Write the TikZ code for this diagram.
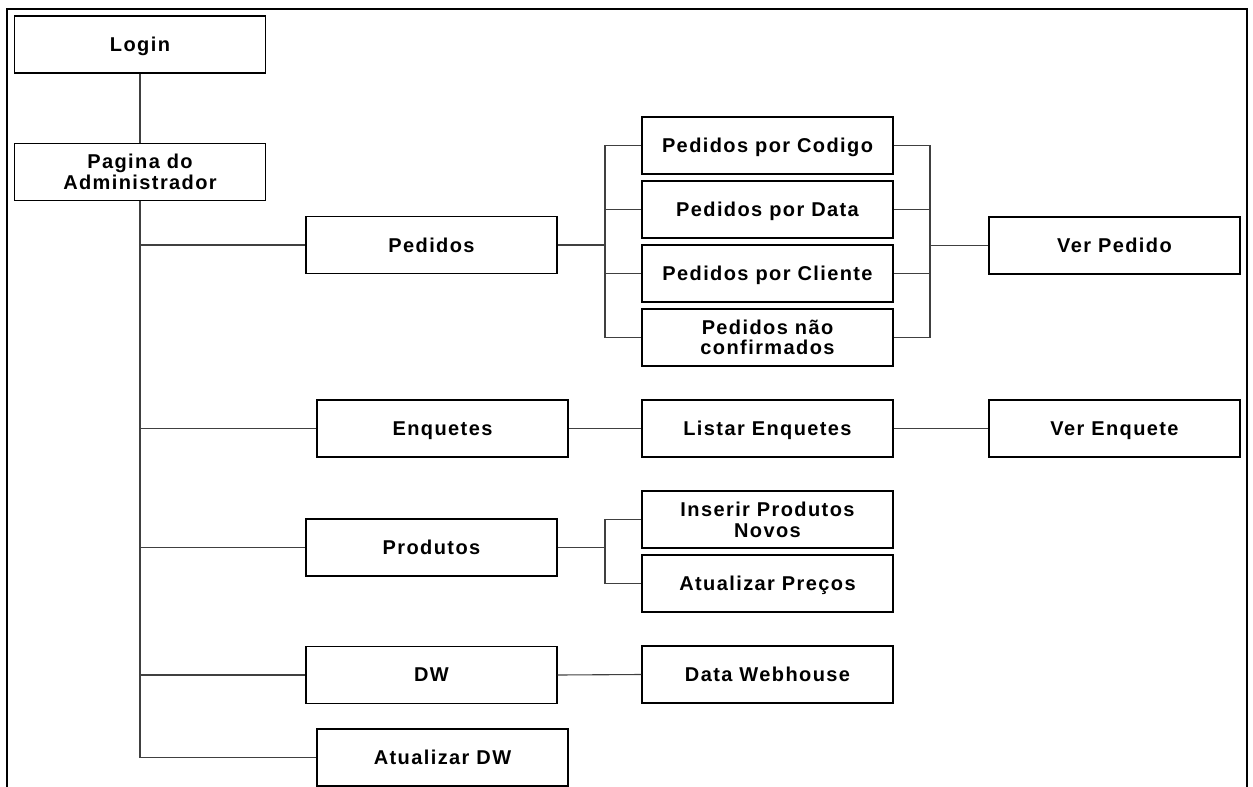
\documentclass[tikz,border=0pt]{standalone}
\usepackage{fontspec}
\setmainfont{Liberation Sans}[LetterSpace=7]
\usetikzlibrary{calc}
\begin{document}
\begin{tikzpicture}[x=1pt,y=-1pt,
  menubox/.style={draw=black, line width=1.3pt, fill=white, minimum width=251pt,
    minimum height=57pt, inner sep=0pt, align=center, text depth=0pt,
    font=\fontsize{20}{20.5}\selectfont\bfseries},
  link/.style={draw=black!75, line width=1.1pt}]
\useasboundingbox (0,0) rectangle (1253,787);
% page frame, open at the bottom
\draw[line width=2.5pt] (7,787) -- (7,9) -- (1247,9) -- (1247,787);

% first column
\node[menubox] (login) at (140,44.5) {Login};
\node[menubox] (admin) at (140,172) {Pagina do\\Administrador};

% second column
\node[menubox] (pedidos)  at (431.5,245)   {Pedidos};
\node[menubox] (enquetes) at (442.5,428.5) {Enquetes};
\node[menubox] (produtos) at (431.5,547.5) {Produtos};
\node[menubox] (dw)       at (431.5,675)   {DW};
\node[menubox] (attdw)    at (442.5,757.5) {Atualizar DW};

% third column
\node[menubox] (codigo)  at (767.5,145.5) {Pedidos por Codigo};
\node[menubox] (data)    at (767.5,209.5) {Pedidos por Data};
\node[menubox] (cliente) at (767.5,273.5) {Pedidos por Cliente};
\node[menubox] (naoconf) at (767.5,337.5) {Pedidos não\\confirmados};
\node[menubox] (listar)  at (767.5,428.5) {Listar Enquetes};
\node[menubox] (inserir) at (767.5,519.5) {Inserir Produtos\\Novos};
\node[menubox] (precos)  at (767.5,583.5) {Atualizar Preços};
\node[menubox] (datawh)  at (767.5,674.5) {Data Webhouse};

% fourth column
\node[menubox] (verped) at (1114.5,245.5) {Ver Pedido};
\node[menubox] (verenq) at (1114.5,428.5) {Ver Enquete};

% bus junctions
\coordinate (pbus)  at (605,245);
\coordinate (vbus)  at (930,245.5);
\coordinate (prbus) at (605,547.5);

% main trunk
\draw[link] (login.south) -- (admin.north);
\draw[link] (admin.south) |- (attdw.west);
\foreach \n in {pedidos,enquetes,produtos,dw}
  \draw[link] (admin.south |- \n.west) -- (\n.west);

% pedidos group
\draw[link] (pedidos.east) -- (pbus);
\draw[link] (codigo.west) -| (pbus) |- (naoconf.west);
\draw[link] (pbus |- data.west) -- (data.west);
\draw[link] (pbus |- cliente.west) -- (cliente.west);
\draw[link] (codigo.east) -| (vbus) |- (naoconf.east);
\draw[link] (data.east) -- (data.east -| vbus);
\draw[link] (cliente.east) -- (cliente.east -| vbus);
\draw[link] (vbus) -- (verped.west);

% enquetes chain
\draw[link] (enquetes.east) -- (listar.west);
\draw[link] (listar.east) -- (verenq.west);

% produtos group
\draw[link] (produtos.east) -- (prbus);
\draw[link] (inserir.west) -| (prbus) |- (precos.west);

% dw
\draw[link] (dw.east) -- (datawh.west);
\end{tikzpicture}
\end{document}
